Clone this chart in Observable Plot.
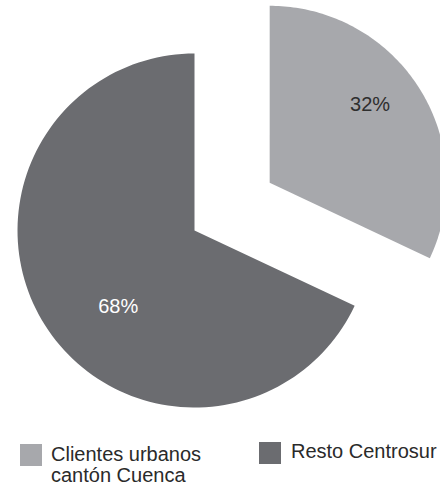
<!DOCTYPE html>
<html>
<head>
<meta charset="utf-8">
<script src="https://cdn.jsdelivr.net/npm/d3@7"></script>
<script src="https://cdn.jsdelivr.net/npm/@observablehq/plot@0.6"></script>
<style>
  html, body { margin: 0; padding: 0; background: #fff; }
  body { width: 440px; height: 487px; overflow: hidden; font-family: "Liberation Sans", Arial, Helvetica, sans-serif; }
  #legend { position: relative; width: 440px; height: 67px; color: #2a2a2a; font-size: 20px; }
  .sw { position: absolute; width: 22px; height: 22px; }
  .lt { position: absolute; line-height: 21px; white-space: nowrap; }
</style>
</head>
<body>
<div id="chart"></div>
<div id="legend"></div>
<script>
// ---- data ----
const categories = ["Clientes urbanos cantón Cuenca", "Resto Centrosur"];
const values = [32, 68];
const valueLabels = ["32%", "68%"];
const legendLines = [["Clientes urbanos", "cantón Cuenca"], ["Resto Centrosur"]];

// ---- style / layout ----
const colors = ["#a7a8ac", "#6b6c70"];
const labelColors = ["#2e2e2e", "#ffffff"];
const W = 440, H = 420;
const cx = 194, cy = 230, R = 177;       // pie centre & radius in px
const explode = [0.503, 0];              // radial offset (in radii)
const labelR = [0.72, 0.61];             // label distance (in radii)
const labelA = [52, 225];                // label angle (degrees, clockwise from top)

const pie = d3.pie().sort(null).value(d => d)(values);
const pts = [];
const lbls = [];
pie.forEach((s, i) => {
  const mid = (s.startAngle + s.endAngle) / 2;
  const ox = explode[i] * Math.sin(mid), oy = explode[i] * Math.cos(mid);
  pts.push({cat: categories[i], x: ox, y: oy});
  const n = 120;
  for (let k = 0; k <= n; k++) {
    const a = s.startAngle + (s.endAngle - s.startAngle) * k / n;
    pts.push({cat: categories[i], x: ox + Math.sin(a), y: oy + Math.cos(a)});
  }
  pts.push({cat: categories[i], x: ox, y: oy});
  const la = labelA[i] * Math.PI / 180;
  lbls.push({i, text: valueLabels[i], x: ox + labelR[i] * Math.sin(la), y: oy + labelR[i] * Math.cos(la)});
});

const chart = Plot.plot({
  width: W, height: H,
  margin: 0,
  x: {domain: [-cx / R, (W - cx) / R], axis: null},
  y: {domain: [-(H - cy) / R, cy / R], axis: null},
  color: {domain: categories, range: colors},
  style: {fontFamily: '"Liberation Sans", Arial, Helvetica, sans-serif', background: "#fff"},
  marks: [
    Plot.line(pts, {x: "x", y: "y", z: "cat", fill: "cat", stroke: null, curve: "linear"}),
    Plot.text(lbls.filter(d => d.i === 0), {x: "x", y: "y", text: "text", fill: labelColors[0], fontSize: 20}),
    Plot.text(lbls.filter(d => d.i === 1), {x: "x", y: "y", text: "text", fill: labelColors[1], fontSize: 20})
  ]
});
document.getElementById("chart").appendChild(chart);

// ---- legend ----
const legend = document.getElementById("legend");
const legPos = [{sx: 20, sy: 24, tx: 51, ty: 24}, {sx: 259, sy: 22, tx: 291, ty: 21}];
categories.forEach((c, i) => {
  const sw = document.createElement("div");
  sw.className = "sw";
  sw.style.left = legPos[i].sx + "px"; sw.style.top = legPos[i].sy + "px";
  sw.style.background = colors[i];
  legend.appendChild(sw);
  const t = document.createElement("div");
  t.className = "lt";
  t.style.left = legPos[i].tx + "px"; t.style.top = legPos[i].ty + "px";
  t.innerHTML = legendLines[i].join("<br>");
  legend.appendChild(t);
});
</script>
</body>
</html>
